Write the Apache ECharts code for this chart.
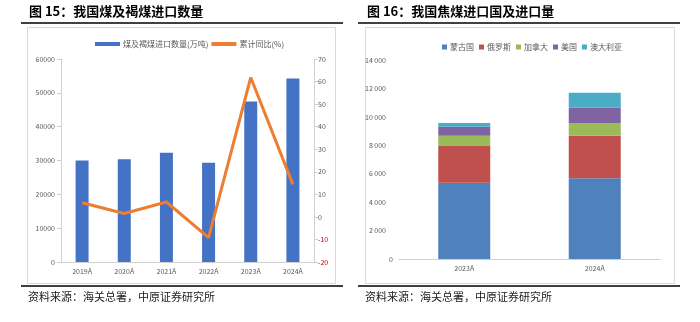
<!DOCTYPE html>
<html><head><meta charset="utf-8">
<script src="https://cdn.jsdelivr.net/npm/echarts@6/dist/echarts.min.js"></script>
<style>html,body{margin:0;padding:0;background:#fff}#c{width:700px;height:322px}</style>
</head><body><div id="c"></div>
<script>
// Figure 15 data
const years1 = ['2019A','2020A','2021A','2022A','2023A','2024A'];
const coalImports = [29977, 30399, 32322, 29320, 47442, 54270];
const yoyGrowth = [6.3, 1.5, 6.6, -9.2, 61.8, 14.4];
// Figure 16 data
const years2 = ['2023A','2024A'];
const mongolia = [5369, 5679];
const russia = [2583, 2998];
const canada = [725, 894];
const usa = [633, 1076];
const australia = [260, 1056];

const title1 = '图 15：我国煤及褐煤进口数量';
const title2 = '图 16：我国焦煤进口国及进口量';
const source = '资料来源：海关总署，中原证券研究所';

const CJK = '"Noto Sans CJK SC", "Noto Sans", sans-serif';
const LBL = '#595959';

const chart = echarts.init(document.getElementById('c'), null, {renderer: 'canvas'});

function fmtSpace(v) {
  if (v === 0) return '0';
  const k = Math.floor(v / 1000), r = v % 1000;
  return '{n|' + k + ' ' + String(r).padStart(3, '0') + '}';
}

const option = {
  animation: false,
  backgroundColor: '#fff',
  textStyle: {fontFamily: CJK},
  graphic: [
    {type: 'text', left: 29, top: 5, style: {text: title1, font: 'bold 13px ' + CJK, fill: '#000'}},
    {type: 'text', left: 367, top: 5, style: {text: title2, font: 'bold 13px ' + CJK, fill: '#000'}},
    {type: 'line', shape: {x1: 21, y1: 23, x2: 343, y2: 23}, style: {stroke: '#000', lineWidth: 1.5}},
    {type: 'line', shape: {x1: 358, y1: 23, x2: 680, y2: 23}, style: {stroke: '#000', lineWidth: 1.5}},
    {type: 'rect', shape: {x: 27.5, y: 27.5, width: 308, height: 256}, style: {fill: 'none', stroke: '#d9d9d9', lineWidth: 1}},
    {type: 'rect', shape: {x: 365.5, y: 27.5, width: 309, height: 256}, style: {fill: 'none', stroke: '#d9d9d9', lineWidth: 1}},
    {type: 'line', shape: {x1: 21, y1: 286, x2: 343, y2: 286}, style: {stroke: '#000', lineWidth: 1.5}},
    {type: 'line', shape: {x1: 358, y1: 286, x2: 680, y2: 286}, style: {stroke: '#000', lineWidth: 1.5}},
    {type: 'text', left: 28, top: 291, style: {text: source, font: '11px ' + CJK, fill: '#222'}},
    {type: 'text', left: 365, top: 291, style: {text: source, font: '11px ' + CJK, fill: '#222'}}
  ],
  legend: [
    {
      left: 90, top: 35, itemWidth: 25, itemHeight: 4, itemGap: 3,
      textStyle: {fontSize: 8, color: LBL, padding: [0, 0, 0, -2]},
      data: [
        {name: '煤及褐煤进口数量(万吨)', icon: 'rect'},
        {name: '累计同比(%)', icon: 'rect'}
      ]
    },
    {
      left: 437, top: 38, itemWidth: 5, itemHeight: 5, itemGap: 5,
      textStyle: {fontSize: 8, color: LBL, padding: [0, 0, 0, -2]},
      data: ['蒙古国', '俄罗斯', '加拿大', '美国', '澳大利亚'].map(n => ({name: n, icon: 'rect'}))
    }
  ],
  grid: [
    {left: 61, top: 59, width: 253, height: 203, containLabel: false},
    {left: 399, top: 60, width: 261, height: 199, containLabel: false}
  ],
  xAxis: [
    {
      type: 'category', gridIndex: 0, data: years1,
      axisLine: {lineStyle: {color: '#d0d0d0'}}, axisTick: {show: false},
      axisLabel: {fontSize: 7, color: LBL, margin: 6}
    },
    {
      type: 'category', gridIndex: 1, data: years2,
      axisLine: {lineStyle: {color: '#d0d0d0'}}, axisTick: {show: false},
      axisLabel: {fontSize: 7, color: LBL, margin: 6}
    }
  ],
  yAxis: [
    {
      type: 'value', gridIndex: 0, min: 0, max: 60000, interval: 10000,
      axisLine: {show: true, lineStyle: {color: '#d0d0d0'}},
      axisTick: {show: true, length: 4, lineStyle: {color: '#d0d0d0'}},
      axisLabel: {fontSize: 7, color: LBL, margin: 6, formatter: v => String(v)},
      splitLine: {show: false}
    },
    {
      type: 'value', gridIndex: 0, position: 'right', min: -20, max: 70, interval: 10,
      axisLine: {show: true, lineStyle: {color: '#d0d0d0'}},
      axisTick: {show: true, length: 4, lineStyle: {color: '#d0d0d0'}},
      axisLabel: {
        fontSize: 7, color: LBL, margin: 4,
        formatter: v => v < 0 ? '{neg|' + v + '}' : String(v),
        rich: {neg: {fontSize: 7, color: '#c00000'}}
      },
      splitLine: {show: false}
    },
    {
      type: 'value', gridIndex: 1, min: 0, max: 14000, interval: 2000,
      axisLine: {show: false}, axisTick: {show: false},
      axisLabel: {
        fontSize: 7, color: LBL, margin: 6,
        formatter: fmtSpace,
        rich: {n: {fontSize: 7, color: LBL, padding: [0, 7, 0, 0]}}
      },
      splitLine: {show: false}
    }
  ],
  series: [
    {
      name: '煤及褐煤进口数量(万吨)', type: 'bar', xAxisIndex: 0, yAxisIndex: 0,
      data: coalImports, barWidth: 13, itemStyle: {color: '#4472C4'}
    },
    {
      name: '累计同比(%)', type: 'line', xAxisIndex: 0, yAxisIndex: 1,
      data: yoyGrowth, showSymbol: false, symbol: 'none',
      lineStyle: {color: '#ED7D31', width: 3}, itemStyle: {color: '#ED7D31'}
    },
    {name: '蒙古国', type: 'bar', stack: 'c', xAxisIndex: 1, yAxisIndex: 2, data: mongolia, barWidth: 52, itemStyle: {color: '#4F81BD'}},
    {name: '俄罗斯', type: 'bar', stack: 'c', xAxisIndex: 1, yAxisIndex: 2, data: russia, barWidth: 52, itemStyle: {color: '#C0504D'}},
    {name: '加拿大', type: 'bar', stack: 'c', xAxisIndex: 1, yAxisIndex: 2, data: canada, barWidth: 52, itemStyle: {color: '#9BBB59'}},
    {name: '美国', type: 'bar', stack: 'c', xAxisIndex: 1, yAxisIndex: 2, data: usa, barWidth: 52, itemStyle: {color: '#8064A2'}},
    {name: '澳大利亚', type: 'bar', stack: 'c', xAxisIndex: 1, yAxisIndex: 2, data: australia, barWidth: 52, itemStyle: {color: '#4BACC6'}}
  ]
};
chart.setOption(option);
</script>
</body></html>
